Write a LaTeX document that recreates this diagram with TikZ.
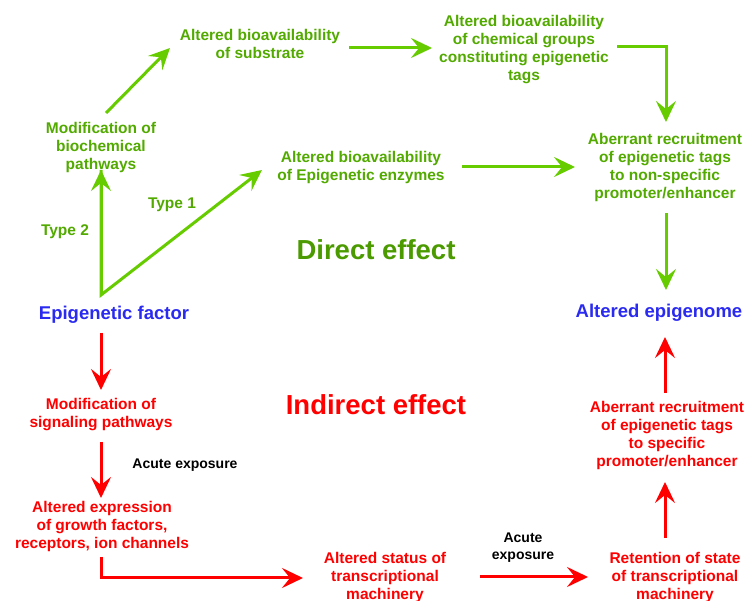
\documentclass[tikz,border=0pt]{standalone}
\usepackage{fontspec}
\setmainfont{Liberation Sans}
\usetikzlibrary{arrows.meta}
\definecolor{gtext}{HTML}{52AA00}
\definecolor{garrow}{HTML}{66CC00}
\definecolor{gbig}{HTML}{4A9A00}
\definecolor{btext}{HTML}{2A2AF0}
\definecolor{rtext}{HTML}{FF0000}
\begin{document}
\begin{tikzpicture}[x=1pt,y=-1pt,
  lbl/.style={font=\bfseries\fontsize{15.5}{18}\selectfont, align=center, inner sep=0pt},
  gl/.style={lbl,text=gtext},
  rl/.style={lbl,text=rtext},
  bigl/.style={font=\bfseries\fontsize{27.5}{30}\selectfont, inner sep=0pt},
  keyl/.style={font=\bfseries\fontsize{18.5}{22}\selectfont, text=btext, inner sep=0pt},
  smalll/.style={font=\bfseries\fontsize{14}{17}\selectfont, align=center, inner sep=0pt},
  tip/.style={-{Stealth[length=21pt,width=20pt,inset=8pt]}},
  ga/.style={draw=garrow, line width=3pt, tip},
  ra/.style={draw=rtext, line width=3pt, tip}
]
\useasboundingbox (0,0) rectangle (745,601);

% green nodes
\node[gl] (substrate) at (260,44) {Altered bioavailability\\of substrate};
\node[gl] (chem) at (524,50) {Altered bioavailability\\of chemical groups\\constituting epigenetic\\tags};
\node[gl] (modbio) at (101,147) {Modification of\\biochemical\\pathways};
\node[gl] (enzymes) at (361,168) {Altered bioavailability\\of Epigenetic enzymes};
\node[gl] (abg) at (665,167) {Aberrant recruitment\\of epigenetic tags\\to non-specific\\promoter/enhancer};
\node[gl] (type1) at (172,205) {Type 1};
\node[gl] (type2) at (65,232) {Type 2};
\node[bigl, text=gbig] (direct) at (376,250) {Direct effect};

% key nodes
\node[keyl] (factor) at (114,315) {Epigenetic factor};
\node[keyl] (epigenome) at (659,313) {Altered epigenome};

% red nodes
\node[rl] (modsig) at (101,415) {Modification of\\signaling pathways};
\node[bigl, text=rtext] (indirect) at (376,405) {Indirect effect};
\node[smalll] (acute1) at (185,465) {Acute exposure};
\node[rl] (altexpr) at (102,526) {Altered expression\\of growth factors,\\receptors, ion channels};
\node[rl] (status) at (385,577) {Altered status of\\transcriptional\\machinery};
\node[smalll] (acute2) at (523,548) {Acute\\exposure};
\node[rl] (retention) at (675,577) {Retention of state\\of transcriptional\\machinery};
\node[rl] (abr) at (667,435) {Aberrant recruitment\\of epigenetic tags\\to specific\\promoter/enhancer};

\coordinate (v) at (101,295);

% green connectors
\draw[ga] ([shift={(5,-34)}]modbio.center) -- ([shift={(-90,4)}]substrate.center);
\draw[ga] ([shift={(89,4)}]substrate.center) -- ([shift={(-92,-2)}]chem.center);
\draw[ga] ([shift={(93,-3)}]chem.center) -| ([shift={(1,-45)}]abg.center);
\draw[ga, line join=miter] ([shift={(0,23)}]modbio.center) -- (v) -- ([shift={(-99,2)}]enzymes.center);
\draw[ga] (v) -- ([shift={(0,23)}]modbio.center);
\draw[ga] ([shift={(101,-1)}]enzymes.center) -- ([shift={(-90,0)}]abg.center);
\draw[ga] ([shift={(1,46)}]abg.center) -- ([shift={(7,-23)}]epigenome.center);

% red connectors
\draw[ra] ([shift={(-13,18)}]factor.center) -- ([shift={(0,-25)}]modsig.center);
\draw[ra] ([shift={(0,27)}]modsig.center) -- ([shift={(-1,-28)}]altexpr.center);
\draw[ra] ([shift={(-1,31)}]altexpr.center) |- ([shift={(-82,1)}]status.center);
\draw[ra] ([shift={(95,0)}]status.center) -- ([shift={(-87,0)}]retention.center);
\draw[ra] ([shift={(-10,-39)}]retention.center) -- ([shift={(-2,47)}]abr.center);
\draw[ra] ([shift={(-2,-42)}]abr.center) -- ([shift={(6,24)}]epigenome.center);
\end{tikzpicture}
\end{document}
